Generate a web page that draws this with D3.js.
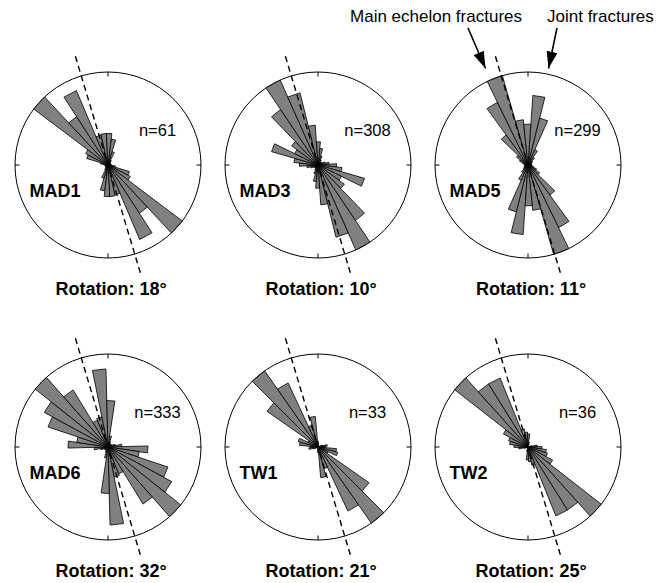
<!DOCTYPE html>
<html>
<head>
<meta charset="utf-8">
<script src="https://cdn.jsdelivr.net/npm/d3@7"></script>
<style>
body { margin: 0; background: #fff; }
svg { font-family: "Liberation Sans", Arial, Helvetica, sans-serif; }
</style>
</head>
<body>
<div id="chart"></div>
<script>
const sites = ['MAD1', 'MAD3', 'MAD5', 'MAD6', 'TW1', 'TW2']
const counts = [61, 308, 299, 333, 33, 36]
const rotations = [18, 10, 11, 32, 21, 25]
// strike of the main echelon fractures (dashed line), same for every site
const echelonAzimuth = 343.3
// where the first 10 degree bin starts (degrees clockwise from north)
const binStarts = [7, 6, 4, 8.5, 5, 8]
const binWidth = 10

// petal lengths in % of the outer circle, 18 bins clockwise from binStarts,
// each one mirrored 180 degrees on the other side
const MAD1 = [28, 15, 6, 4, 3, 3, 3, 3, 4, 8, 24, 27, 100, 62, 87, 33, 34, 34]
const MAD3 = [18, 10, 6, 4, 4, 5, 8, 12, 20, 26, 52, 28, 35, 72, 100, 80, 43, 25]
const MAD5 = [75, 52, 18, 10, 6, 5, 4, 4, 4, 4, 6, 10, 15, 40, 75, 100, 49, 44]
const MAD6 = [12, 6, 4, 4, 4, 5, 8, 15, 43, 34, 68, 78, 100, 72, 31, 33, 84, 50]
const TW1 = [0, 0, 0, 0, 0, 0, 5, 10, 8, 20, 22, 12, 67, 100, 76, 24, 33, 6]
const TW2 = [5, 0, 0, 0, 0, 0, 4, 10, 15, 20, 22, 30, 100, 80, 80, 20, 16, 14]
const petals = [MAD1, MAD3, MAD5, MAD6, TW1, TW2]

const width = 669
const height = 583
const R = 93
const colX = [108, 318, 528]
const rowY = [165, 447]

const r = d3.scaleLinear().domain([0, 100]).range([0, R])
const rad = d => d * Math.PI / 180

const radial = d3.lineRadial()
    .angle(d => rad(d[0]))
    .radius(d => r(d[1]))

const wedge = d3.lineRadial()
    .angle(d => rad(d[0]))
    .radius(d => r(d[1]))
    .curve(d3.curveLinearClosed)

var svg = d3.select('#chart')
    .append('svg')
    .attr('width', width)
    .attr('height', height)

svg.append('defs').append('marker')
    .attr('id', 'head')
    .attr('markerUnits', 'userSpaceOnUse')
    .attr('markerWidth', 17)
    .attr('markerHeight', 11)
    .attr('refX', 17)
    .attr('refY', 5.5)
    .attr('orient', 'auto')
    .append('path')
    .attr('d', 'M0,0L17,5.5L0,11Z')
    .attr('fill', 'black')

var rose = svg.selectAll('g.rose')
    .data(sites)
    .join('g')
    .attr('class', 'rose')
    .attr('transform', (d, i) => `translate(${colX[i % 3]},${rowY[Math.floor(i / 3)]})`)

rose.append('circle')
    .attr('r', r(100))
    .attr('fill', 'white')
    .attr('stroke', 'black')
    .attr('stroke-width', 1)

// compass ticks
rose.selectAll('path.tick')
    .data([0, 90, 180, 270])
    .join('path')
    .attr('class', 'tick')
    .attr('d', a => radial([[a, 100], [a, r.invert(R - 4.5)]]))
    .attr('stroke', 'black')
    .attr('stroke-width', 1)

// petals, both directions of each bin
rose.append('g')
    .selectAll('path')
    .data((site, i) => petals[i].flatMap((v, k) => {
        const a0 = binStarts[i] + k * binWidth
        return v > 0 ? [{ a0: a0, v: v }, { a0: a0 + 180, v: v }] : []
    }))
    .join('path')
    .attr('d', b => wedge([[b.a0, 0], [b.a0, b.v], [b.a0 + binWidth, b.v]]))
    .attr('fill', '#808080')
    .attr('stroke', 'black')
    .attr('stroke-width', 0.8)

// main echelon direction
rose.append('path')
    .attr('d', radial([[echelonAzimuth, 122], [echelonAzimuth + 180, 122]]))
    .attr('stroke', 'black')
    .attr('stroke-width', 1.4)
    .attr('stroke-dasharray', '6,4')
    .attr('fill', 'none')

rose.append('text')
    .attr('x', 49.5)
    .attr('y', -29)
    .attr('text-anchor', 'middle')
    .attr('font-size', 16.5)
    .text((d, i) => `n=${counts[i]}`)

rose.append('text')
    .attr('x', -78.5)
    .attr('y', 31.7)
    .attr('font-size', 18)
    .attr('font-weight', 'bold')
    .text(d => d)

rose.append('text')
    .attr('x', 3)
    .attr('y', 130)
    .attr('text-anchor', 'middle')
    .attr('font-size', 18)
    .attr('font-weight', 'bold')
    .text((d, i) => `Rotation: ${rotations[i]}°`)

// annotations over MAD5
var note = svg.append('g').attr('font-size', 17)

note.append('text')
    .attr('x', 522)
    .attr('y', 22)
    .attr('text-anchor', 'end')
    .text('Main echelon fractures')

note.append('text')
    .attr('x', 547)
    .attr('y', 22)
    .text('Joint fractures')

note.selectAll('line')
    .data([[468, 28, 485.5, 68.5], [557, 28, 548.5, 68.5]])
    .join('line')
    .attr('x1', d => d[0])
    .attr('y1', d => d[1])
    .attr('x2', d => d[2])
    .attr('y2', d => d[3])
    .attr('stroke', 'black')
    .attr('stroke-width', 1.6)
    .attr('marker-end', 'url(#head)')
</script>
</body>
</html>
